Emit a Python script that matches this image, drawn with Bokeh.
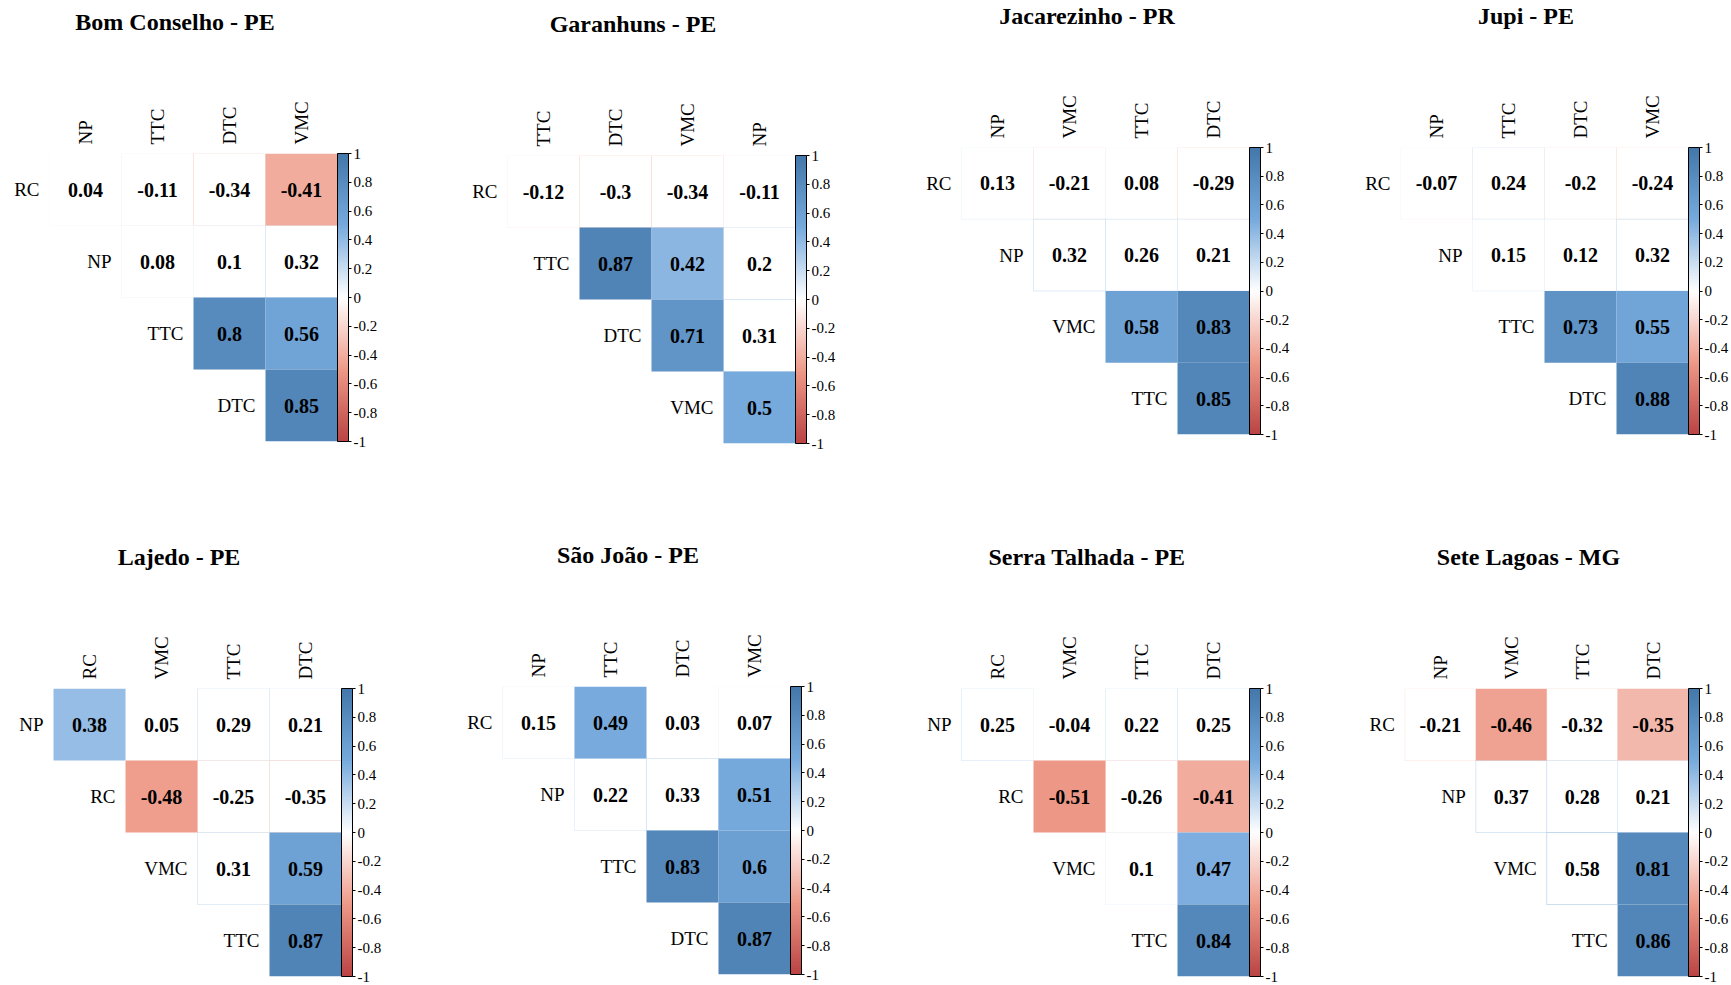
import numpy as np
from bokeh.plotting import figure
from bokeh.models import (ColumnDataSource, LinearColorMapper, ColorBar, FixedTicker,
                          NumeralTickFormatter, Range1d, AllLabels)
from bokeh.transform import transform
from bokeh.layouts import column, row
from bokeh.embed import file_html
from bokeh.resources import INLINE
from bokeh.core.properties import value

# ------------------------------------------------------------------ data
bom_conselho_rows = ["RC", "NP", "TTC", "DTC"]
bom_conselho_cols = ["NP", "TTC", "DTC", "VMC"]
bom_conselho_r = [[0.04, -0.11, -0.34, -0.41], [0.08, 0.1, 0.32], [0.8, 0.56], [0.85]]
bom_conselho_sig = [[0, 0, 0, 1], [0, 0, 0], [1, 1], [1]]

garanhuns_rows = ["RC", "TTC", "DTC", "VMC"]
garanhuns_cols = ["TTC", "DTC", "VMC", "NP"]
garanhuns_r = [[-0.12, -0.3, -0.34, -0.11], [0.87, 0.42, 0.2], [0.71, 0.31], [0.5]]
garanhuns_sig = [[0, 0, 0, 0], [1, 1, 0], [1, 0], [1]]

jacarezinho_rows = ["RC", "NP", "VMC", "TTC"]
jacarezinho_cols = ["NP", "VMC", "TTC", "DTC"]
jacarezinho_r = [[0.13, -0.21, 0.08, -0.29], [0.32, 0.26, 0.21], [0.58, 0.83], [0.85]]
jacarezinho_sig = [[0, 0, 0, 0], [0, 0, 0], [1, 1], [1]]

jupi_rows = ["RC", "NP", "TTC", "DTC"]
jupi_cols = ["NP", "TTC", "DTC", "VMC"]
jupi_r = [[-0.07, 0.24, -0.2, -0.24], [0.15, 0.12, 0.32], [0.73, 0.55], [0.88]]
jupi_sig = [[0, 0, 0, 0], [0, 0, 0], [1, 1], [1]]

lajedo_rows = ["NP", "RC", "VMC", "TTC"]
lajedo_cols = ["RC", "VMC", "TTC", "DTC"]
lajedo_r = [[0.38, 0.05, 0.29, 0.21], [-0.48, -0.25, -0.35], [0.31, 0.59], [0.87]]
lajedo_sig = [[1, 0, 0, 0], [1, 0, 0], [0, 1], [1]]

sao_joao_rows = ["RC", "NP", "TTC", "DTC"]
sao_joao_cols = ["NP", "TTC", "DTC", "VMC"]
sao_joao_r = [[0.15, 0.49, 0.03, 0.07], [0.22, 0.33, 0.51], [0.83, 0.6], [0.87]]
sao_joao_sig = [[0, 1, 0, 0], [0, 0, 1], [1, 1], [1]]

serra_talhada_rows = ["NP", "RC", "VMC", "TTC"]
serra_talhada_cols = ["RC", "VMC", "TTC", "DTC"]
serra_talhada_r = [[0.25, -0.04, 0.22, 0.25], [-0.51, -0.26, -0.41], [0.1, 0.47], [0.84]]
serra_talhada_sig = [[0, 0, 0, 0], [1, 0, 1], [0, 1], [1]]

sete_lagoas_rows = ["RC", "NP", "VMC", "TTC"]
sete_lagoas_cols = ["NP", "VMC", "TTC", "DTC"]
sete_lagoas_r = [[-0.21, -0.46, -0.32, -0.35], [0.37, 0.28, 0.21], [0.58, 0.81], [0.86]]
sete_lagoas_sig = [[0, 1, 0, 1], [0, 0, 0], [0, 1], [1]]

panel_titles = ["Bom Conselho - PE", "Garanhuns - PE", "Jacarezinho - PR", "Jupi - PE",
                "Lajedo - PE", "São João - PE", "Serra Talhada - PE", "Sete Lagoas - MG"]
panel_rows = [bom_conselho_rows, garanhuns_rows, jacarezinho_rows, jupi_rows,
              lajedo_rows, sao_joao_rows, serra_talhada_rows, sete_lagoas_rows]
panel_cols = [bom_conselho_cols, garanhuns_cols, jacarezinho_cols, jupi_cols,
              lajedo_cols, sao_joao_cols, serra_talhada_cols, sete_lagoas_cols]
panel_r = [bom_conselho_r, garanhuns_r, jacarezinho_r, jupi_r,
           lajedo_r, sao_joao_r, serra_talhada_r, sete_lagoas_r]
panel_sig = [bom_conselho_sig, garanhuns_sig, jacarezinho_sig, jupi_sig,
             lajedo_sig, sao_joao_sig, serra_talhada_sig, sete_lagoas_sig]

cbar_ticks = [1, 0.8, 0.6, 0.4, 0.2, 0, -0.2, -0.4, -0.6, -0.8, -1]

# ------------------------------------------------------------------ style
SERIF = "Liberation Serif"
anchors = ["#BB4444", "#EE9988", "#FFFFFF", "#77AADD", "#4477AA"]
anc_rgb = np.array([[int(h[i:i + 2], 16) for i in (1, 3, 5)] for h in anchors], dtype=float)
pos = np.linspace(0, 1, 200)
ap = np.linspace(0, 1, len(anchors))
palette = []
for t in pos:
    rgb = [np.interp(t, ap, anc_rgb[:, k]) for k in range(3)]
    palette.append("#%02x%02x%02x" % tuple(int(round(c)) for c in rgb))

CELL = 72
FRAME_W = 325
X_START = 3.5 - FRAME_W / CELL
FIG_W = [433, 433, 433, 432]
FIG_H = [492, 493]
grid_ref = [(49, 153), (507, 155), (961, 143), (1410, 141),
            (53, 688), (502, 686), (961, 688), (1415, 688)]
DX = [0, 0, 0, -10]
TOP_NEEDED = 146   # room for the column labels and the panel title

figs = []
for k in range(8):
    ri, ci = divmod(k, 4)
    gl, gt = grid_ref[k]
    fig_left = sum(FIG_W[:ci])
    fig_top = sum(FIG_H[:ri])
    frame_left = gl + DX[ci] - (-0.5 - X_START) * CELL
    mbl = int(round(frame_left - fig_left))
    mbr = FIG_W[ci] - mbl - FRAME_W
    mbt = max(gt - fig_top, TOP_NEEDED)
    mbb = FIG_H[ri] - mbt - 4 * CELL

    mapper = LinearColorMapper(palette=palette, low=-1, high=1)
    p = figure(width=FIG_W[ci], height=FIG_H[ri],
               x_range=Range1d(X_START, 3.5), y_range=Range1d(3.5, -0.5),
               x_axis_location="above", y_axis_location=None,
               toolbar_location=None, output_backend="svg",
               min_border_left=mbl, min_border_right=mbr,
               min_border_top=mbt, min_border_bottom=mbb)
    try:
        p.frame_align = False
    except Exception:
        pass
    p.xgrid.visible = False
    p.ygrid.visible = False
    p.outline_line_color = None
    p.background_fill_color = "white"
    p.border_fill_color = "white"

    rows_, cols_, rv, sg = panel_rows[k], panel_cols[k], panel_r[k], panel_sig[k]
    cells = {True: dict(x=[], y=[], v=[], lab=[]), False: dict(x=[], y=[], v=[], lab=[])}
    for i, vals in enumerate(rv):
        for jj, v in enumerate(vals):
            d = cells[bool(sg[i][jj])]
            d["x"].append(i + jj)
            d["y"].append(i)
            d["v"].append(v)
            d["lab"].append("%g" % v)

    src_ns = ColumnDataSource(cells[False])
    src_s = ColumnDataSource(cells[True])
    p.rect(x="x", y="y", width=1, height=1, source=src_ns, fill_color="white",
           line_color=transform("v", mapper), line_width=1, line_alpha=0.35)
    p.rect(x="x", y="y", width=1, height=1, source=src_s,
           fill_color=transform("v", mapper), line_color=None)
    for src in (src_ns, src_s):
        p.text(x="x", y="y", text="lab", source=src, text_align="center",
               text_baseline="middle", text_font=value(SERIF), text_font_style="bold",
               text_font_size="20px", text_color="black")

    lab_src = ColumnDataSource(dict(x=[i - 0.5 for i in range(4)], y=list(range(4)), t=rows_))
    p.text(x="x", y="y", text="t", source=lab_src, x_offset=-10, text_align="right",
           text_baseline="middle", text_font=value(SERIF), text_font_size="19px",
           text_color="black")

    ax = p.xaxis[0]
    ax.ticker = FixedTicker(ticks=[0, 1, 2, 3])
    ax.major_label_overrides = {j: name for j, name in enumerate(cols_)}
    ax.major_label_orientation = "vertical"
    ax.major_label_text_font = SERIF
    ax.major_label_text_font_size = "19px"
    ax.major_label_text_color = "black"
    ax.major_label_standoff = 9
    ax.axis_line_color = None
    ax.major_tick_line_color = None
    ax.major_tick_out = 0
    ax.major_tick_in = 0
    ax.minor_tick_line_color = None
    ax.axis_label = panel_titles[k]
    ax.axis_label_text_font = SERIF
    ax.axis_label_text_font_style = "bold"
    ax.axis_label_text_font_size = "24px"
    ax.axis_label_text_color = "black"
    ax.axis_label_standoff = 63

    cb = ColorBar(color_mapper=mapper, ticker=FixedTicker(ticks=sorted(cbar_ticks)),
                  formatter=NumeralTickFormatter(format="0.[0]"),
                  major_label_policy=AllLabels(),
                  width=11, padding=0, margin=3, label_standoff=2,
                  bar_line_color="black", bar_line_width=1,
                  major_tick_line_color="black", major_tick_in=0, major_tick_out=3,
                  minor_tick_line_color=None,
                  major_label_text_font=SERIF, major_label_text_font_size="15px",
                  major_label_text_color="black", background_fill_alpha=0)
    p.add_layout(cb, "right")
    figs.append(p)

layout = column(row(*figs[:4]), row(*figs[4:]))
open("out.html", "w").write(file_html(layout, INLINE))
